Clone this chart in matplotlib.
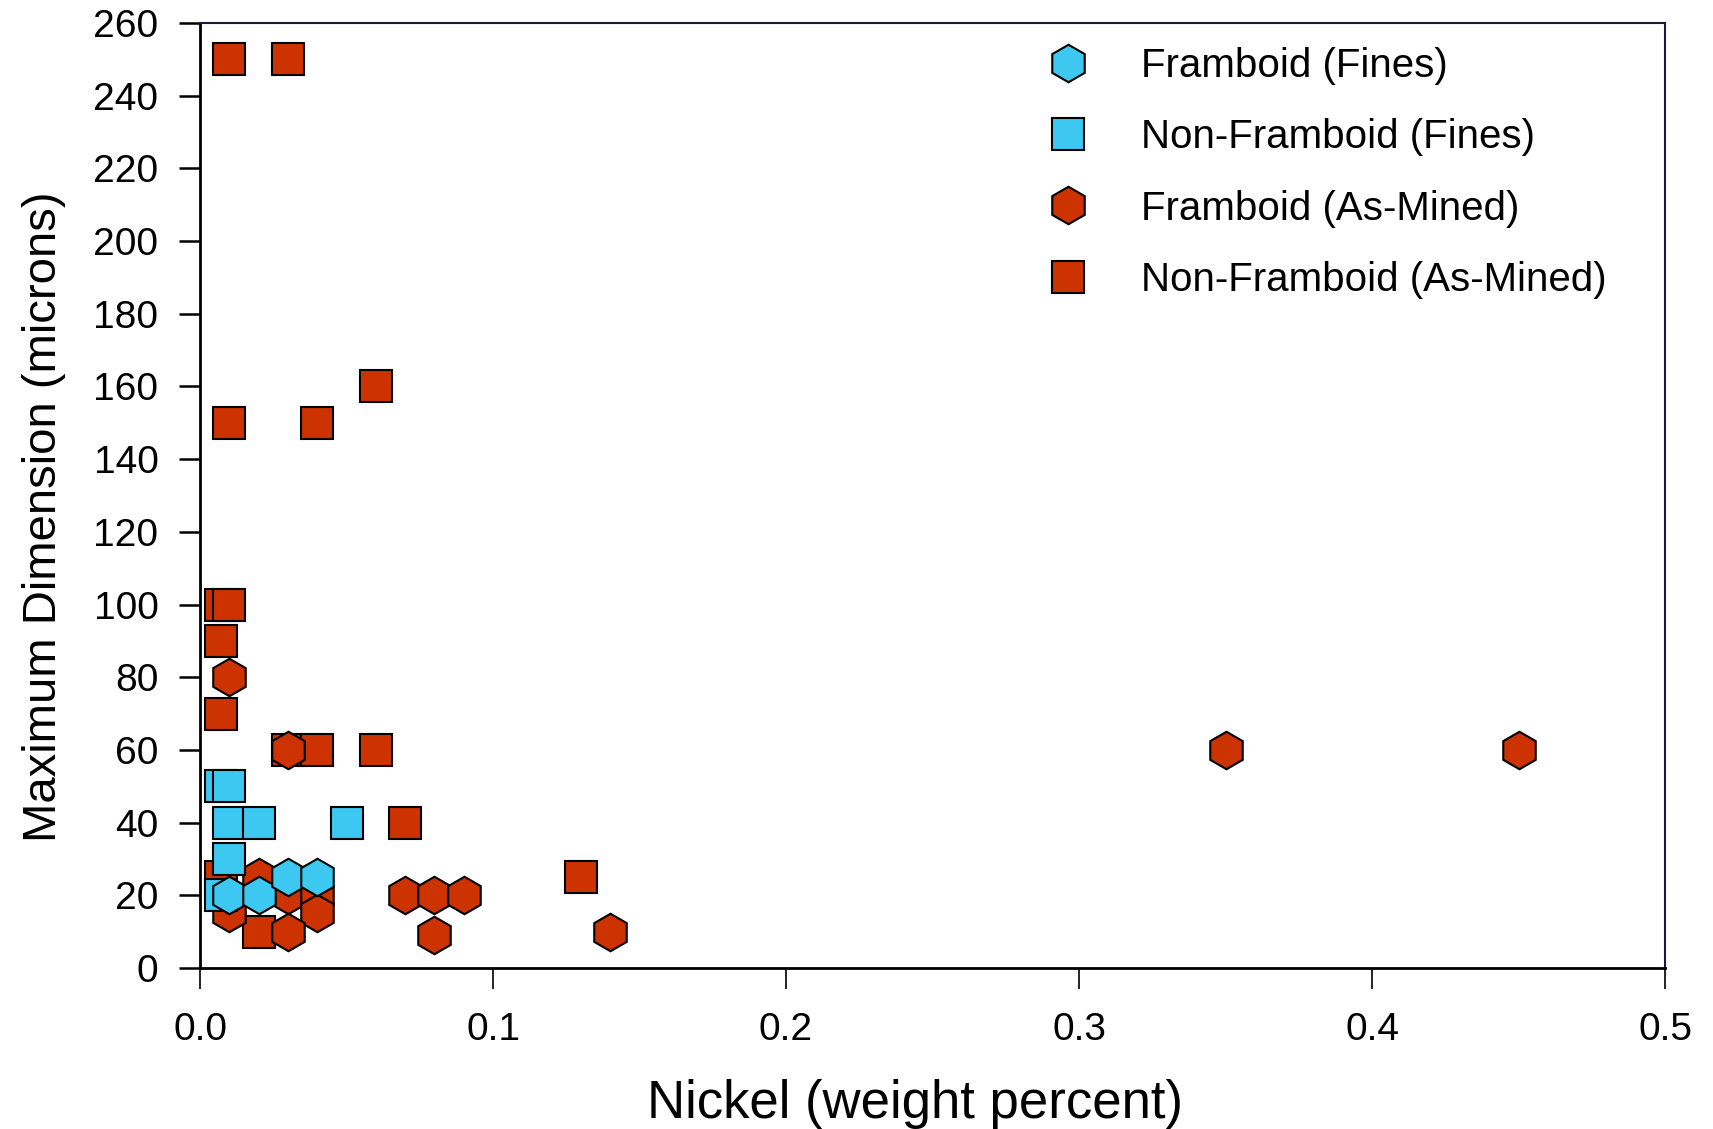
''' scatter of maximum particle dimension against nickel content
'''
import matplotlib
matplotlib.use('Agg')
import matplotlib.pyplot as plt

plt.rcParams['font.family'] = ['Liberation Sans', 'DejaVu Sans']

# framboid (fines) - blue hexagons
fr_fines_ni = [0.01, 0.02, 0.03, 0.04]
fr_fines_dim = [20, 20, 25, 25]

# non-framboid (fines) - blue squares
nf_fines_ni = [0.007, 0.01, 0.01, 0.02, 0.05, 0.01, 0.007]
nf_fines_dim = [50, 50, 40, 40, 40, 30, 20]

# framboid (as-mined) - red hexagons
fr_mined_ni = [0.01, 0.03, 0.02, 0.03, 0.04, 0.01, 0.04, 0.03,
               0.07, 0.08, 0.09, 0.08, 0.14, 0.35, 0.45]
fr_mined_dim = [80, 60, 25, 20, 20, 15, 15, 10,
                20, 20, 20, 9, 10, 60, 60]

# non-framboid (as-mined) - red squares
nf_mined_ni = [0.01, 0.03, 0.06, 0.01, 0.04, 0.007, 0.01, 0.007,
               0.007, 0.03, 0.04, 0.06, 0.07, 0.007, 0.02, 0.13]
nf_mined_dim = [250, 250, 160, 150, 150, 100, 100, 90,
                70, 60, 60, 60, 40, 25, 10, 25]

x_ticks = [0.0, 0.1, 0.2, 0.3, 0.4, 0.5]
y_ticks = list(range(0, 261, 20))

red = '#CC3300'
blue = '#3CC8F0'
ms_sq = 23
ms_hex = 27

fig = plt.figure(figsize=(17.13, 11.29), dpi=100)
ax = fig.add_axes([0.1168, 0.1426, 0.8552, 0.837])

# red first, blue drawn on top
l_nfm, = ax.plot(nf_mined_ni, nf_mined_dim, 's', color=red, mec='black',
                 mew=1.5, ms=ms_sq, ls='none', label='Non-Framboid (As-Mined)')
l_frm, = ax.plot(fr_mined_ni, fr_mined_dim, 'h', color=red, mec='black',
                 mew=1.5, ms=ms_hex, ls='none', label='Framboid (As-Mined)')
l_nff, = ax.plot(nf_fines_ni, nf_fines_dim, 's', color=blue, mec='black',
                 mew=1.5, ms=ms_sq, ls='none', label='Non-Framboid (Fines)')
l_frf, = ax.plot(fr_fines_ni, fr_fines_dim, 'h', color=blue, mec='black',
                 mew=1.5, ms=ms_hex, ls='none', label='Framboid (Fines)')

ax.set_xlim(0, 0.5)
ax.set_ylim(0, 260)
ax.set_xticks(x_ticks)
ax.set_xticklabels([f'{v:.1f}' for v in x_ticks])
ax.set_yticks(y_ticks)
ax.tick_params(axis='both', direction='out', length=15, labelsize=28)
ax.tick_params(axis='x', width=1.2, pad=17)
ax.tick_params(axis='y', width=1.8, pad=15)

for side in ['left', 'bottom']:
    ax.spines[side].set_linewidth(2)
for side in ['top', 'right']:
    ax.spines[side].set_linewidth(1.5)
    ax.spines[side].set_color('#1a1a3a')

ax.set_xlabel('Nickel (weight percent)', fontsize=38, labelpad=22)
ax.set_ylabel('Maximum Dimension (microns)', fontsize=34, labelpad=20)
ax.xaxis.label.set_x(0.488)
ax.yaxis.label.set_y(0.478)

ax.legend(handles=[l_frf, l_nff, l_frm, l_nfm], loc='upper left',
          bbox_to_anchor=(0.579, 0.975), frameon=False, fontsize=29,
          handlelength=1.0, handletextpad=1.3, labelspacing=0.83,
          borderpad=0, borderaxespad=0, numpoints=1)

fig.savefig('out.png', dpi=100)
